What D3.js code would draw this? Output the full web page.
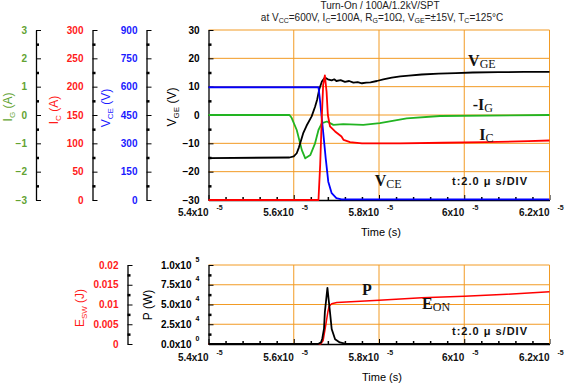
<!DOCTYPE html>
<html>
<head>
<meta charset="utf-8">
<script src="https://cdn.jsdelivr.net/npm/d3@7"></script>
<style>
  body { margin: 0; background: #fff; }
  svg { display: block; font-family: "Liberation Sans", Arial, sans-serif; }
</style>
</head>
<body>
<svg id="chart" width="571" height="384"></svg>
<script>
// times are in microseconds, values in the unit of each axis
const vgeData = [[54,-15.2],[55.9,-15.0],[56.0,-14.6],[56.07,-13.5],[56.12,-11.5],[56.16,-9.5],[56.22,-6.5],[56.3,-3.8],
  [56.42,-0.5],[56.5,2.9],[56.55,5.5],[56.6,9.2],[56.66,11.8],[56.73,13.2],[56.8,12.6],[56.89,12.2],[56.95,12.6],
  [57.0,12.0],[57.1,12.3],[57.2,11.7],[57.3,12.0],[57.4,11.4],[57.5,11.6],[57.6,11.2],[57.7,11.4],[57.8,11.5],
  [57.95,12.0],[58.1,12.6],[58.3,13.2],[58.5,13.6],[58.7,13.9],[59.0,14.3],[59.4,14.6],[59.8,14.8],[60.2,15.0],
  [60.8,15.1],[61.4,15.2],[62,15.2]];
const vceData = [[54,597],[56.58,597],[56.61,540],[56.65,450],[56.69,361],[56.75,220],[56.81,97],[56.89,36],
  [57.0,10],[57.12,3],[62,3]];
const icData = [[54,0],[56.58,0],[56.62,62],[56.66,150],[56.69,203],[56.73,220],[56.77,191],[56.8,150],[56.85,130],
  [56.97,121],[57.12,112],[57.17,106],[57.32,102],[57.6,100],[58.5,100],[59.5,101],[60.5,102],[61.5,104],[62,105]];
const igData = [[54,0],[55.9,0],[55.95,-0.1],[56.07,-0.53],[56.19,-1.24],[56.27,-1.53],[56.39,-1.41],[56.5,-1.0],
  [56.58,-0.53],[56.66,-0.29],[56.78,-0.23],[56.93,-0.35],[57.16,-0.32],[57.63,-0.35],[58.02,-0.29],[58.65,-0.12],
  [59.43,-0.035],[62,0]];
const pData = [[54,0],[56.57,0],[56.64,2000],[56.67,7000],[56.71,19400],[56.73,40500],[56.79,71000],[56.85,40500],
  [56.89,19000],[56.97,6000],[57.08,2000],[57.2,500],[57.35,0],[62,0]];
const eData = [[54,0],[56.63,0],[56.69,0.0009],[56.75,0.0047],[56.8,0.0081],[56.83,0.0096],[56.89,0.0102],
  [57.01,0.0105],[58.0,0.0111],[59.0,0.0117],[60.0,0.0121],[61.0,0.0126],[62,0.0132]];

const xTicks = [54,56,58,60,62];
const xTickMant = ['5.4x10','5.6x10','5.8x10','6x10','6.2x10'];
const xTickExp = '-5';
const vgeTicks = [-30,-20,-10,0,10,20,30];
const vceTicks = [0,150,300,450,600,750,900];
const icTicks = [0,50,100,150,200,250,300];
const igTicks = [-3,-2,-1,0,1,2,3];
const pTicks = [0,25000,50000,75000,100000];
const pTickMant = ['0.0x10','2.5x10','5.0x10','7.5x10','1.0x10'];
const pTickExp = ['0','4','4','4','5'];
const eTicks = [0,0.005,0.01,0.015,0.02];
const eTickLabels = ['0','0.005','0.01','0.015','0.02'];

const svg = d3.select('#chart');
const orange = '#f29b24';
const cGreen = '#22b422', cGreenTxt = '#62a332', cRed = '#ff1a1a', cBlue = '#1a1aff';

const left = 208.5, right = 549.5;
const x = d3.scaleLinear().domain([54, 62]).range([left, right]);
const yVge = d3.scaleLinear().domain([-30, 30]).range([200, 30]);
const yVce = d3.scaleLinear().domain([0, 900]).range([200, 30]);
const yIc = d3.scaleLinear().domain([0, 300]).range([200, 30]);
const yIg = d3.scaleLinear().domain([-3, 3]).range([200, 30]);
const yP = d3.scaleLinear().domain([0, 100000]).range([344, 265]);
const yE = d3.scaleLinear().domain([0, 0.02]).range([344, 265]);

// title
svg.append('text').attr('x', 380).attr('y', 9).attr('text-anchor', 'middle')
  .style('font-size', '10px').attr('fill', '#222').text('Turn-On / 100A/1.2kV/SPT');
function subText(sel, parts, subSize) {
  let shift = 0;
  parts.forEach(p => {
    if (typeof p === 'object') {
      sel.append('tspan').attr('dy', 2).style('font-size', subSize).text(p.s);
      shift = -2;
    } else {
      sel.append('tspan').attr('dy', shift).text(p);
      shift = 0;
    }
  });
}
const t2 = svg.append('text').attr('x', 382).attr('y', 21).attr('text-anchor', 'middle')
  .style('font-size', '10px').attr('fill', '#222');
subText(t2, ['at V', {s:'CC'}, '=600V,  I', {s:'C'}, '=100A,  R', {s:'G'}, '=10\u03a9,  V', {s:'GE'},
  '=\u00b115V, T', {s:'C'}, '=125\u00b0C'], '7px');

// grids
function grid(yScale, yVals, y0, y1) {
  const g = svg.append('g');
  g.selectAll('.gh').data(yVals).join('line')
    .attr('x1', left).attr('x2', right).attr('y1', d => yScale(d)).attr('y2', d => yScale(d))
    .attr('stroke', orange).attr('stroke-width', 1);
  g.selectAll('.gv').data(xTicks.slice(1)).join('line')
    .attr('x1', d => x(d)).attr('x2', d => x(d)).attr('y1', y0).attr('y2', y1)
    .attr('stroke', orange).attr('stroke-width', 1);
}
grid(yVge, vgeTicks.slice(1, -1).concat([30]), 30, 200);
grid(yP, pTicks.slice(1), 265, 344);

// left axes
function leftAxis(xPos, scale, ticks, labels, color, minorStep) {
  const g = svg.append('g').attr('transform', `translate(${xPos},0)`);
  g.call(d3.axisLeft(scale).tickValues(ticks).tickSize(-5).tickSizeOuter(0).tickPadding(9)
    .tickFormat((d, i) => labels[i]));
  const minor = d3.range(ticks[0] + minorStep, ticks[ticks.length - 1], minorStep * 2);
  g.append('g').call(d3.axisLeft(scale).tickValues(minor).tickSize(-3).tickSizeOuter(0).tickFormat(''))
    .call(a => a.select('.domain').remove())
    .call(a => a.selectAll('text').remove())
    .selectAll('line').attr('stroke-width', 2.5);
  g.select('.domain').attr('stroke', '#000').attr('stroke-width', 1.3);
  g.selectAll('.tick line').attr('stroke', '#000');
  g.selectAll('text').attr('fill', color).style('font-size', '10px').style('font-weight', 'bold')
    .style('font-family', '"Liberation Sans", Arial, sans-serif');
  return g;
}
leftAxis(36, yIg, igTicks, igTicks.map(d => d < 0 ? '\u2212' + (-d) : d), cGreenTxt, 0.5);
leftAxis(92.5, yIc, icTicks, icTicks, cRed, 25);
leftAxis(146.5, yVce, vceTicks, vceTicks, cBlue, 75);
leftAxis(left, yVge, vgeTicks, vgeTicks.map(d => d < 0 ? '\u2212' + (-d) : d), '#000', 5);
leftAxis(127.5, yE, eTicks, eTickLabels, cRed, 0.0025);
const pAx = leftAxis(left, yP, pTicks, pTickMant, '#000', 12500);
pAx.selectAll(':scope > .tick').each(function(d, i) {
  d3.select(this).select('text').attr('x', -17);
  d3.select(this).append('text').attr('x', 0).attr('y', -4).attr('dx', -9)
    .attr('fill', '#000').style('font-size', '7px').style('font-weight', 'bold').text(pTickExp[i]);
});

// x axes
function bottomAxis(yPos, off) {
  const g = svg.append('g').attr('transform', `translate(0,${yPos})`);
  g.call(d3.axisBottom(x).tickValues(xTicks).tickSize(-5).tickSizeOuter(0).tickFormat(''))
    .call(a => a.selectAll('text').remove());
  g.append('g').call(d3.axisBottom(x).tickValues(d3.range(54.4, 62, 0.4).filter(v => Math.abs(v / 2 - Math.round(v / 2)) > 0.01))
    .tickSize(-3).tickSizeOuter(0).tickFormat(''))
    .call(a => a.select('.domain').remove())
    .call(a => a.selectAll('text').remove())
    .selectAll('line').attr('stroke-width', 1.5);
  g.select('.domain').attr('stroke-width', 1.3);
  xTicks.forEach((t, i) => {
    g.append('text').attr('x', x(t)).attr('y', off).attr('text-anchor', 'end')
      .style('font-size', '10px').style('font-weight', 'bold').attr('fill', '#111').text(xTickMant[i]);
    g.append('text').attr('x', x(t) + 11).attr('y', off - 6)
      .style('font-size', '7px').style('font-weight', 'bold').attr('fill', '#111').text(xTickExp);
  });
  return g;
}
bottomAxis(200, 16);
bottomAxis(344, 17);
// right frame lines
svg.append('line').attr('x1', right).attr('x2', right).attr('y1', 30).attr('y2', 200).attr('stroke', orange);
svg.append('line').attr('x1', right).attr('x2', right).attr('y1', 265).attr('y2', 344).attr('stroke', orange);

svg.append('text').attr('x', 381).attr('y', 236).attr('text-anchor', 'middle').style('font-size', '11px').text('Time (s)');
svg.append('text').attr('x', 382).attr('y', 381).attr('text-anchor', 'middle').style('font-size', '11px').text('Time (s)');

// axis titles
function axisTitle(cx, cy, main, sub, tail, color) {
  const t = svg.append('text').attr('transform', `translate(${cx + 4},${cy}) rotate(-90)`)
    .attr('text-anchor', 'middle').attr('fill', color).style('font-size', '12px');
  t.append('tspan').text(main);
  if (sub) {
    t.append('tspan').attr('dy', 3).style('font-size', '8px').text(sub);
    t.append('tspan').attr('dy', -3).text(tail);
  } else {
    t.append('tspan').text(tail);
  }
}
axisTitle(8, 107, 'I', 'G', ' (A)', cGreenTxt);
axisTitle(54, 110, 'I', 'C', ' (A)', cRed);
axisTitle(106, 108, 'V', 'CE', ' (V)', cBlue);
axisTitle(172, 107, 'V', 'GE', ' (V)', '#000');
axisTitle(80, 308, 'E', 'SW', '  (J)', cRed);
axisTitle(148, 305, 'P', '', ' (W)', '#000');

// traces
function trace(data, yScale, color, w) {
  svg.append('path').datum(data)
    .attr('d', d3.line().x(d => x(d[0])).y(d => yScale(d[1])))
    .attr('fill', 'none').attr('stroke', color).attr('stroke-width', w).attr('stroke-linejoin', 'round');
}
trace(igData, yIg, cGreen, 1.8);
trace(vgeData, yVge, '#000', 1.8);
trace(vceData, yVce, '#0000ff', 1.8);
trace(icData, yIc, '#ff0000', 1.8);
trace(eData, yE, '#ff0000', 1.5);
trace(pData, yP, '#000', 1.8);

// curve labels
function curveLabel(px, py, main, sub) {
  const t = svg.append('text').attr('x', px).attr('y', py)
    .style('font-family', '"Liberation Serif", "Times New Roman", serif').style('font-weight', 'bold')
    .style('font-size', '16px').attr('fill', '#111');
  t.append('tspan').text(main);
  if (sub) t.append('tspan').attr('dy', 2).style('font-size', '12px').style('font-weight', 'normal').text(sub);
}
curveLabel(x(60.09), yVge(17.3), 'V', 'GE');
curveLabel(x(60.2), yVge(1.7), '-I', 'G');
curveLabel(x(60.35), yVge(-8.8), 'I', 'C');
curveLabel(x(57.9), yVge(-25.2), 'V', 'CE');
curveLabel(x(57.6), yP(62000), 'P', '');
curveLabel(x(59.01), yP(44000), 'E', 'ON');

function divLabel(py) {
  svg.append('text').attr('x', 452).attr('y', py).style('font-size', '11px').style('font-weight', 'bold')
    .style('letter-spacing', '1px').attr('fill', '#111').text('t:2.0 \u03bc s/DIV');
}
divLabel(185);
divLabel(335);
</script>
</body>
</html>
